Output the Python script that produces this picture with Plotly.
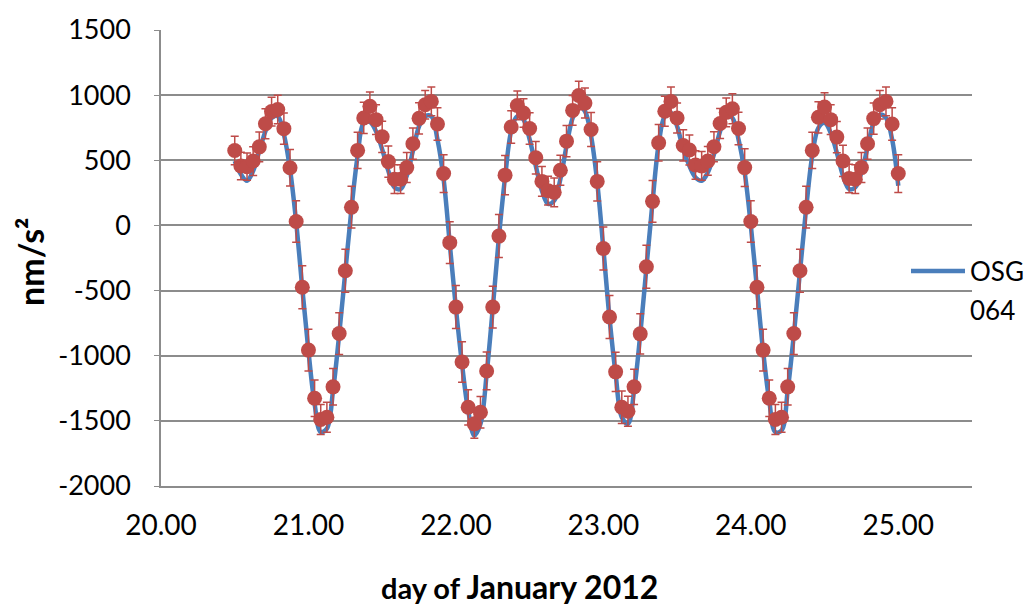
import plotly.graph_objects as go

# Hourly sampling of the record: first sample and count
START_DAY = 20.5
STEP_HOURS = 1
N_SAMPLES = 109
days = [START_DAY + k * STEP_HOURS / 24 for k in range(N_SAMPLES)]

# Observed gravity (nm/s^2), one value per hour
observed = [
    575, 456, 451, 494, 603, 780, 874, 890, 743, 443,
    30, -475, -957, -1327, -1490, -1472, -1239, -830, -348, 140,
    576, 825, 914, 812, 680, 490, 355, 355, 444, 627,
    822, 926, 952, 779, 398, -132, -627, -1048, -1396, -1523,
    -1434, -1117, -627, -82, 386, 756, 921, 863, 744, 520,
    338, 267, 254, 424, 647, 883, 997, 939, 736, 338,
    -178, -703, -1124, -1396, -1426, -1239, -832, -317, 185, 634,
    876, 952, 825, 614, 579, 464, 457, 495, 604, 782,
    868, 896, 744, 444, 30, -475, -957, -1327, -1490, -1472,
    -1239, -830, -348, 140, 576, 830, 909, 812, 678, 495,
    360, 355, 444, 627, 820, 926, 952, 779, 398,
]

# Uncertainty of each hourly value (nm/s^2)
observed_err = [
    110, 105, 105, 110, 115, 115, 110, 110, 120, 140,
    160, 165, 160, 140, 115, 115, 140, 160, 165, 160,
    140, 120, 110, 115, 120, 120, 110, 110, 115, 120,
    120, 110, 110, 125, 145, 160, 165, 155, 135, 110,
    120, 145, 160, 165, 150, 125, 110, 110, 120, 125,
    115, 110, 110, 115, 120, 115, 110, 115, 130, 150,
    165, 165, 150, 125, 115, 135, 155, 165, 160, 140,
    115, 110, 115, 120, 115, 110, 110, 110, 115, 115,
    110, 115, 125, 145, 160, 165, 160, 140, 115, 115,
    140, 160, 165, 160, 140, 120, 110, 115, 120, 120,
    110, 110, 115, 120, 120, 110, 110, 125, 145,
]

# Modelled tide for station OSG 064 (nm/s^2)
model = [
    495, 393, 343, 419, 571, 723, 825, 838, 698, 431,
    25, -482, -964, -1370, -1586, -1560, -1269, -838, -355, 127,
    533, 787, 795, 723, 584, 419, 292, 279, 381, 571,
    761, 838, 838, 660, 355, -140, -635, -1066, -1421, -1612,
    -1523, -1142, -635, -89, 368, 723, 838, 812, 660, 457,
    267, 165, 190, 355, 609, 825, 914, 876, 685, 330,
    -178, -711, -1142, -1472, -1523, -1269, -838, -330, 178, 622,
    838, 863, 761, 584, 457, 368, 343, 406, 546, 723,
    850, 825, 660, 406, 0, -482, -964, -1345, -1586, -1574,
    -1269, -838, -355, 127, 533, 749, 787, 711, 558, 381,
    279, 292, 406, 597, 787, 850, 825, 660, 305,
]

series_name = ["OSG", "064"]
y_ticks = [-2000, -1500, -1000, -500, 0, 500, 1000, 1500]
y_tick_text = ["-2000", "-1500", "-1000", "-500", "0", "500", "1000", "1500"]
x_ticks = [20, 21, 22, 23, 24, 25]

BLUE = "#4A7EBB"
RED = "#BE4B48"
GRID = "#8C8C8C"
FONT = "Lato"

fig = go.Figure()

fig.add_trace(go.Scatter(
    x=days, y=model, mode="lines",
    line=dict(color=BLUE, width=4.5, shape="spline", smoothing=1.0),
    name=" ".join(series_name), showlegend=False, hoverinfo="x+y",
))

fig.add_trace(go.Scatter(
    x=days, y=observed, mode="markers",
    marker=dict(color=RED, size=15, line=dict(width=0)),
    error_y=dict(type="data", array=observed_err, visible=True,
                 color=RED, thickness=1.5, width=4),
    showlegend=False, hoverinfo="x+y",
))

W, H = 1027, 605
L, R, T, B = 161, 55, 26, 119
pw, ph = W - L - R, H - T - B


def px_x(px):
    return (px - L) / pw


def px_y(py):
    return (H - B - py) / ph


fig.update_layout(
    width=W, height=H,
    margin=dict(l=L, r=R, t=T, b=B),
    paper_bgcolor="white", plot_bgcolor="white",
    font=dict(family=FONT, color="black", size=27),
    showlegend=False,
    xaxis=dict(
        range=[20, 25.5], tickvals=x_ticks, tickformat=".2f",
        showgrid=False, zeroline=False,
        showline=True, linecolor=GRID, linewidth=1.5,
        ticks="", ticklabelstandoff=14,
        tickfont=dict(size=28, family=FONT),
    ),
    yaxis=dict(
        range=[-2000, 1500], tickvals=y_ticks, ticktext=y_tick_text,
        showgrid=True, gridcolor=GRID, gridwidth=1.5,
        zeroline=False,
        showline=True, linecolor=GRID, linewidth=1.5,
        ticks="outside", ticklen=5, tickcolor=GRID,
        ticklabelstandoff=18,
        tickfont=dict(size=27, family=FONT),
    ),
)

# Axis titles
fig.add_annotation(
    x=px_x(31), y=px_y(260), xref="paper", yref="paper",
    text="<b>nm/s²</b>", textangle=-90, showarrow=False,
    font=dict(size=34, family=FONT, color="black"),
    xanchor="center", yanchor="middle",
)
fig.add_annotation(
    x=px_x(519), y=px_y(587), xref="paper", yref="paper",
    text="<b><span style='font-size:29px'>day of </span>January 2012</b>",
    showarrow=False, font=dict(size=32, family=FONT, color="black"),
    xanchor="center", yanchor="middle",
)

# Legend entry for the modelled series
fig.add_shape(
    type="line", xref="paper", yref="paper",
    x0=px_x(911), x1=px_x(965), y0=px_y(269), y1=px_y(269),
    line=dict(color=BLUE, width=4.5), layer="above",
)
fig.add_annotation(
    x=px_x(968), y=px_y(269), xref="paper", yref="paper",
    text=series_name[0], showarrow=False, xanchor="left", yanchor="middle",
    font=dict(size=26, family=FONT, color="black"),
)
fig.add_annotation(
    x=px_x(968), y=px_y(308), xref="paper", yref="paper",
    text=series_name[1], showarrow=False, xanchor="left", yanchor="middle",
    font=dict(size=26, family=FONT, color="black"),
)

fig.write_html("out.html")
